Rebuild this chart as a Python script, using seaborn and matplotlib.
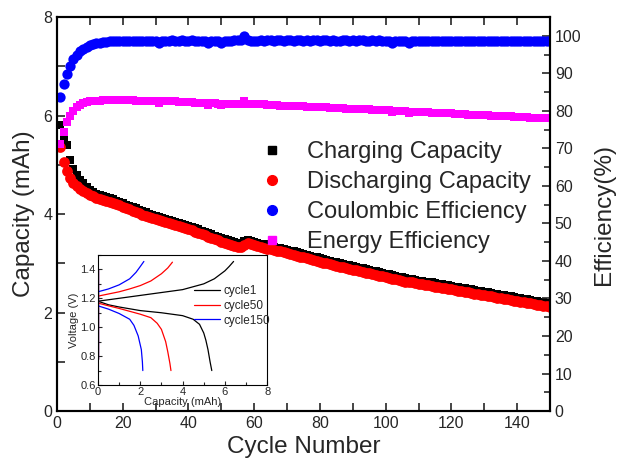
import numpy as np
import pandas as pd
import seaborn as sns
import matplotlib
matplotlib.use("Agg")
import matplotlib.pyplot as plt
from matplotlib.lines import Line2D
from matplotlib.ticker import MultipleLocator

# ---- cycling data ----
discharge_cap = [
    5.37, 5.06, 4.88, 4.74, 4.64, 4.56, 4.50, 4.46, 4.42, 4.39,
    4.36, 4.33, 4.31, 4.29, 4.27, 4.25, 4.23, 4.20, 4.18, 4.15,
    4.12, 4.10, 4.07, 4.05, 4.02, 3.99, 3.97, 3.94, 3.92, 3.89,
    3.87, 3.85, 3.83, 3.81, 3.79, 3.77, 3.75, 3.73, 3.71, 3.69,
    3.67, 3.64, 3.62, 3.59, 3.57, 3.54, 3.52, 3.49, 3.47, 3.44,
    3.42, 3.40, 3.38, 3.36, 3.34, 3.33, 3.38, 3.41, 3.39, 3.37,
    3.35, 3.33, 3.32, 3.30, 3.29, 3.27, 3.25, 3.24, 3.22, 3.20,
    3.18, 3.17, 3.15, 3.13, 3.12, 3.10, 3.08, 3.06, 3.05, 3.03,
    3.01, 3.00, 2.98, 2.96, 2.95, 2.93, 2.92, 2.90, 2.89, 2.87,
    2.86, 2.84, 2.83, 2.81, 2.80, 2.78, 2.77, 2.75, 2.74, 2.72,
    2.71, 2.69, 2.68, 2.66, 2.65, 2.63, 2.62, 2.61, 2.60, 2.58,
    2.57, 2.56, 2.55, 2.54, 2.52, 2.51, 2.50, 2.49, 2.48, 2.47,
    2.45, 2.44, 2.43, 2.42, 2.41, 2.40, 2.38, 2.37, 2.36, 2.35,
    2.34, 2.33, 2.31, 2.30, 2.29, 2.28, 2.27, 2.26, 2.24, 2.23,
    2.22, 2.21, 2.20, 2.19, 2.17, 2.16, 2.15, 2.14, 2.13, 2.12,
]
charge_cap = [
    5.80, 5.55, 5.40, 5.10, 4.92, 4.80, 4.70, 4.62, 4.55, 4.49,
    4.45, 4.41, 4.38, 4.36, 4.34, 4.32, 4.30, 4.27, 4.25, 4.22,
    4.19, 4.17, 4.14, 4.12, 4.09, 4.06, 4.04, 4.01, 3.99, 3.96,
    3.94, 3.92, 3.90, 3.88, 3.86, 3.84, 3.82, 3.80, 3.78, 3.76,
    3.74, 3.71, 3.69, 3.66, 3.64, 3.61, 3.59, 3.56, 3.54, 3.51,
    3.49, 3.47, 3.45, 3.43, 3.41, 3.40, 3.46, 3.48, 3.46, 3.44,
    3.42, 3.40, 3.39, 3.37, 3.36, 3.34, 3.32, 3.31, 3.29, 3.27,
    3.25, 3.24, 3.22, 3.20, 3.19, 3.17, 3.15, 3.13, 3.12, 3.10,
    3.08, 3.07, 3.05, 3.03, 3.02, 3.00, 2.99, 2.97, 2.96, 2.94,
    2.93, 2.91, 2.90, 2.88, 2.87, 2.85, 2.84, 2.82, 2.81, 2.79,
    2.78, 2.76, 2.75, 2.73, 2.72, 2.70, 2.69, 2.68, 2.67, 2.65,
    2.64, 2.63, 2.62, 2.61, 2.59, 2.58, 2.57, 2.56, 2.55, 2.54,
    2.52, 2.51, 2.50, 2.49, 2.48, 2.47, 2.45, 2.44, 2.43, 2.42,
    2.41, 2.40, 2.38, 2.37, 2.36, 2.35, 2.34, 2.33, 2.31, 2.30,
    2.29, 2.28, 2.27, 2.26, 2.24, 2.23, 2.22, 2.21, 2.20, 2.19,
]
coulombic_eff = [
    83.6, 87.1, 89.8, 92.0, 93.8, 95.0, 95.9, 96.6, 97.1, 97.5,
    97.8, 98.0, 98.2, 98.3, 98.4, 98.5, 98.5, 98.6, 98.6, 98.6,
    98.6, 98.6, 98.7, 98.6, 98.6, 98.7, 98.7, 98.6, 98.6, 98.5,
    98.0, 98.6, 98.7, 98.7, 98.8, 98.7, 98.7, 98.8, 98.7, 98.7,
    98.8, 98.7, 98.7, 98.7, 98.6, 98.1, 98.6, 98.7, 98.6, 98.2,
    98.6, 98.7, 98.7, 98.8, 98.8, 99.0, 99.9, 98.8, 98.7, 98.7,
    98.7, 98.8, 98.7, 98.8, 98.8, 98.7, 98.8, 98.8, 98.7, 98.8,
    98.8, 98.7, 98.8, 98.8, 98.7, 98.8, 98.7, 98.8, 98.8, 98.7,
    98.8, 98.8, 98.7, 98.8, 98.7, 98.7, 98.8, 98.8, 98.7, 98.8,
    98.7, 98.8, 98.8, 98.7, 98.7, 98.8, 98.7, 98.8, 98.7, 98.7,
    98.6, 98.0, 98.6, 98.7, 98.7, 98.6, 98.2, 98.6, 98.7, 98.7,
    98.7, 98.6, 98.7, 98.7, 98.6, 98.7, 98.7, 98.6, 98.7, 98.7,
    98.6, 98.7, 98.7, 98.6, 98.7, 98.6, 98.7, 98.7, 98.6, 98.7,
    98.7, 98.6, 98.7, 98.7, 98.6, 98.7, 98.6, 98.7, 98.7, 98.6,
    98.7, 98.6, 98.7, 98.7, 98.6, 98.7, 98.6, 98.7, 98.6, 98.6,
]
energy_eff = [
    71.2, 74.3, 76.9, 78.7, 80.0, 80.9, 81.5, 82.0, 82.3, 82.5,
    82.6, 82.7, 82.7, 82.8, 82.8, 82.8, 82.8, 82.8, 82.8, 82.8,
    82.8, 82.8, 82.8, 82.7, 82.7, 82.7, 82.7, 82.7, 82.7, 82.6,
    82.2, 82.6, 82.6, 82.5, 82.5, 82.5, 82.4, 82.4, 82.4, 82.3,
    82.3, 82.2, 82.2, 82.2, 82.1, 81.6, 82.0, 82.0, 81.9, 81.5,
    81.9, 81.9, 81.9, 81.8, 81.8, 81.9, 82.6, 81.9, 81.8, 81.8,
    81.8, 81.7, 81.7, 81.6, 81.6, 81.5, 81.5, 81.4, 81.4, 81.4,
    81.3, 81.3, 81.3, 81.2, 81.2, 81.1, 81.1, 81.0, 81.0, 81.0,
    80.9, 80.9, 80.8, 80.8, 80.8, 80.7, 80.7, 80.6, 80.6, 80.6,
    80.5, 80.5, 80.4, 80.4, 80.4, 80.3, 80.3, 80.2, 80.2, 80.1,
    80.1, 79.7, 80.0, 80.0, 79.9, 79.9, 79.5, 79.8, 79.8, 79.7,
    79.7, 79.6, 79.6, 79.5, 79.5, 79.5, 79.4, 79.4, 79.3, 79.3,
    79.2, 79.2, 79.1, 79.1, 79.0, 79.0, 79.0, 78.9, 78.9, 78.8,
    78.8, 78.7, 78.7, 78.6, 78.6, 78.6, 78.5, 78.5, 78.4, 78.4,
    78.4, 78.3, 78.3, 78.2, 78.2, 78.2, 78.1, 78.1, 78.0, 78.0,
]
cycles = np.arange(1, len(discharge_cap) + 1)

# ---- inset voltage profiles ----
c1_chg_cap = [0, 1, 2, 3, 4, 4.5, 5, 5.5, 6, 6.2, 6.41]
c1_chg_v = [1.18, 1.20, 1.22, 1.24, 1.26, 1.28, 1.30, 1.335, 1.39, 1.42, 1.455]
c1_dis_cap = [0, 0.5, 1, 2, 3, 4, 4.5, 4.8, 5.0, 5.1, 5.2, 5.3, 5.38]
c1_dis_v = [1.18, 1.155, 1.14, 1.115, 1.10, 1.08, 1.055, 1.02, 0.96, 0.91, 0.845, 0.76, 0.70]
c50_chg_cap = [0, 0.5, 1, 1.5, 2, 2.5, 3, 3.3, 3.52]
c50_chg_v = [1.215, 1.23, 1.245, 1.265, 1.288, 1.32, 1.37, 1.41, 1.45]
c50_dis_cap = [0, 0.5, 1, 1.5, 2, 2.5, 2.8, 3.0, 3.2, 3.3, 3.4, 3.45]
c50_dis_v = [1.167, 1.148, 1.13, 1.11, 1.09, 1.066, 1.027, 0.985, 0.90, 0.83, 0.75, 0.70]
c150_chg_cap = [0, 0.5, 1, 1.5, 1.8, 2.0, 2.17]
c150_chg_v = [1.245, 1.265, 1.293, 1.335, 1.38, 1.42, 1.455]
c150_dis_cap = [0, 0.5, 1, 1.5, 1.7, 1.9, 2.05, 2.1, 2.12]
c150_dis_v = [1.148, 1.125, 1.095, 1.055, 1.013, 0.94, 0.845, 0.76, 0.70]
rest_cap = [0, 0]
rest_v = [0.78, 1.40]

df = pd.DataFrame({"cycle": cycles, "charge": charge_cap, "discharge": discharge_cap,
                   "ce": coulombic_eff, "ee": energy_eff})

sns.set_style("ticks")
plt.rcParams["font.family"] = ["Liberation Sans", "DejaVu Sans"]
plt.rcParams["xtick.direction"] = "in"
plt.rcParams["ytick.direction"] = "in"

fig = plt.figure(figsize=(6.2, 4.73), dpi=100)
ax = fig.add_axes([0.092, 0.131, 0.795, 0.833])

sns.scatterplot(data=df, x="cycle", y="charge", marker="s", color="black", s=30,
                linewidth=0, ax=ax, legend=False)
sns.scatterplot(data=df, x="cycle", y="discharge", marker="o", color="red", s=60,
                linewidth=0, ax=ax, legend=False)
ax.set_xlim(0, 150)
ax.set_ylim(0, 8)
ax.xaxis.set_major_locator(MultipleLocator(20))
ax.xaxis.set_minor_locator(MultipleLocator(10))
ax.yaxis.set_major_locator(MultipleLocator(2))
ax.yaxis.set_minor_locator(MultipleLocator(1))
ax.tick_params(which="major", length=6, width=1.2, labelsize=11.5, top=True)
ax.tick_params(which="minor", length=6, width=1.2, top=True)
ax.set_xlabel("Cycle Number", fontsize=17.5, labelpad=4)
ax.set_ylabel("Capacity (mAh)", fontsize=17.5, labelpad=6)

ax2 = ax.twinx()
sns.scatterplot(data=df, x="cycle", y="ee", marker="s", color="#ff00ff", s=40,
                linewidth=0, ax=ax2, legend=False)
sns.scatterplot(data=df, x="cycle", y="ce", marker="o", color="#0000ff", s=55,
                linewidth=0, ax=ax2, legend=False)
ax2.set_ylim(0, 105)
ax2.yaxis.set_major_locator(MultipleLocator(10))
ax2.yaxis.set_minor_locator(MultipleLocator(5))
ax2.tick_params(which="major", length=6, width=1.2, labelsize=11.5)
ax2.tick_params(which="minor", length=4, width=1.2)
ax2.set_ylabel("Efficiency(%)", fontsize=17.5, labelpad=8)
ax2.set_xlim(0, 150)
for a in (ax, ax2):
    for sp in a.spines.values():
        sp.set_linewidth(1.5)
        sp.set_color("black")

handles = [
    Line2D([], [], marker="s", color="black", ls="none", markersize=6),
    Line2D([], [], marker="o", color="red", ls="none", markersize=7),
    Line2D([], [], marker="o", color="#0000ff", ls="none", markersize=7),
    Line2D([], [], marker="s", color="#ff00ff", ls="none", markersize=6),
]
labels = ["Charging Capacity", "Discharging Capacity", "Coulombic Efficiency", "Energy Efficiency"]
ax2.legend(handles, labels, loc="center left", bbox_to_anchor=(0.412, 0.543),
           frameon=False, fontsize=17, handlelength=1.0, handletextpad=1.0,
           labelspacing=0.33, borderpad=0, borderaxespad=0)

# ---- inset ----
axi = fig.add_axes([0.158, 0.186, 0.273, 0.275])
axi.set_facecolor("white")
for col, cc, cv, dc, dv, lab in [
    ("black", c1_chg_cap, c1_chg_v, c1_dis_cap, c1_dis_v, "cycle1"),
    ("red", c50_chg_cap, c50_chg_v, c50_dis_cap, c50_dis_v, "cycle50"),
    ("#0000ff", c150_chg_cap, c150_chg_v, c150_dis_cap, c150_dis_v, "cycle150"),
]:
    sns.lineplot(x=cc, y=cv, sort=False, estimator=None, color=col, lw=0.9, ax=axi, label=lab)
    sns.lineplot(x=dc, y=dv, sort=False, estimator=None, color=col, lw=0.9, ax=axi)
    sns.lineplot(x=rest_cap, y=rest_v, sort=False, estimator=None, color=col, lw=0.9, ax=axi)
axi.set_xlim(0, 8)
axi.set_ylim(0.6, 1.5)
axi.xaxis.set_major_locator(MultipleLocator(2))
axi.xaxis.set_minor_locator(MultipleLocator(1))
axi.yaxis.set_major_locator(MultipleLocator(0.2))
axi.yaxis.set_minor_locator(MultipleLocator(0.1))
axi.set_yticks([0.6, 0.8, 1.0, 1.2, 1.4])
axi.tick_params(which="major", length=3, width=0.8, labelsize=8, pad=1.5)
axi.tick_params(which="minor", length=2, width=0.8)
axi.set_xlabel("Capacity (mAh)", fontsize=8, labelpad=0)
axi.set_ylabel("Voltage (V)", fontsize=8, labelpad=1)
for sp in axi.spines.values():
    sp.set_linewidth(0.8)
    sp.set_color("black")
axi.legend(loc="center left", bbox_to_anchor=(0.53, 0.61), frameon=False, fontsize=8.5,
           handlelength=2.2, handletextpad=0.3, labelspacing=0.25, borderpad=0)

fig.savefig("out.png", dpi=100)
